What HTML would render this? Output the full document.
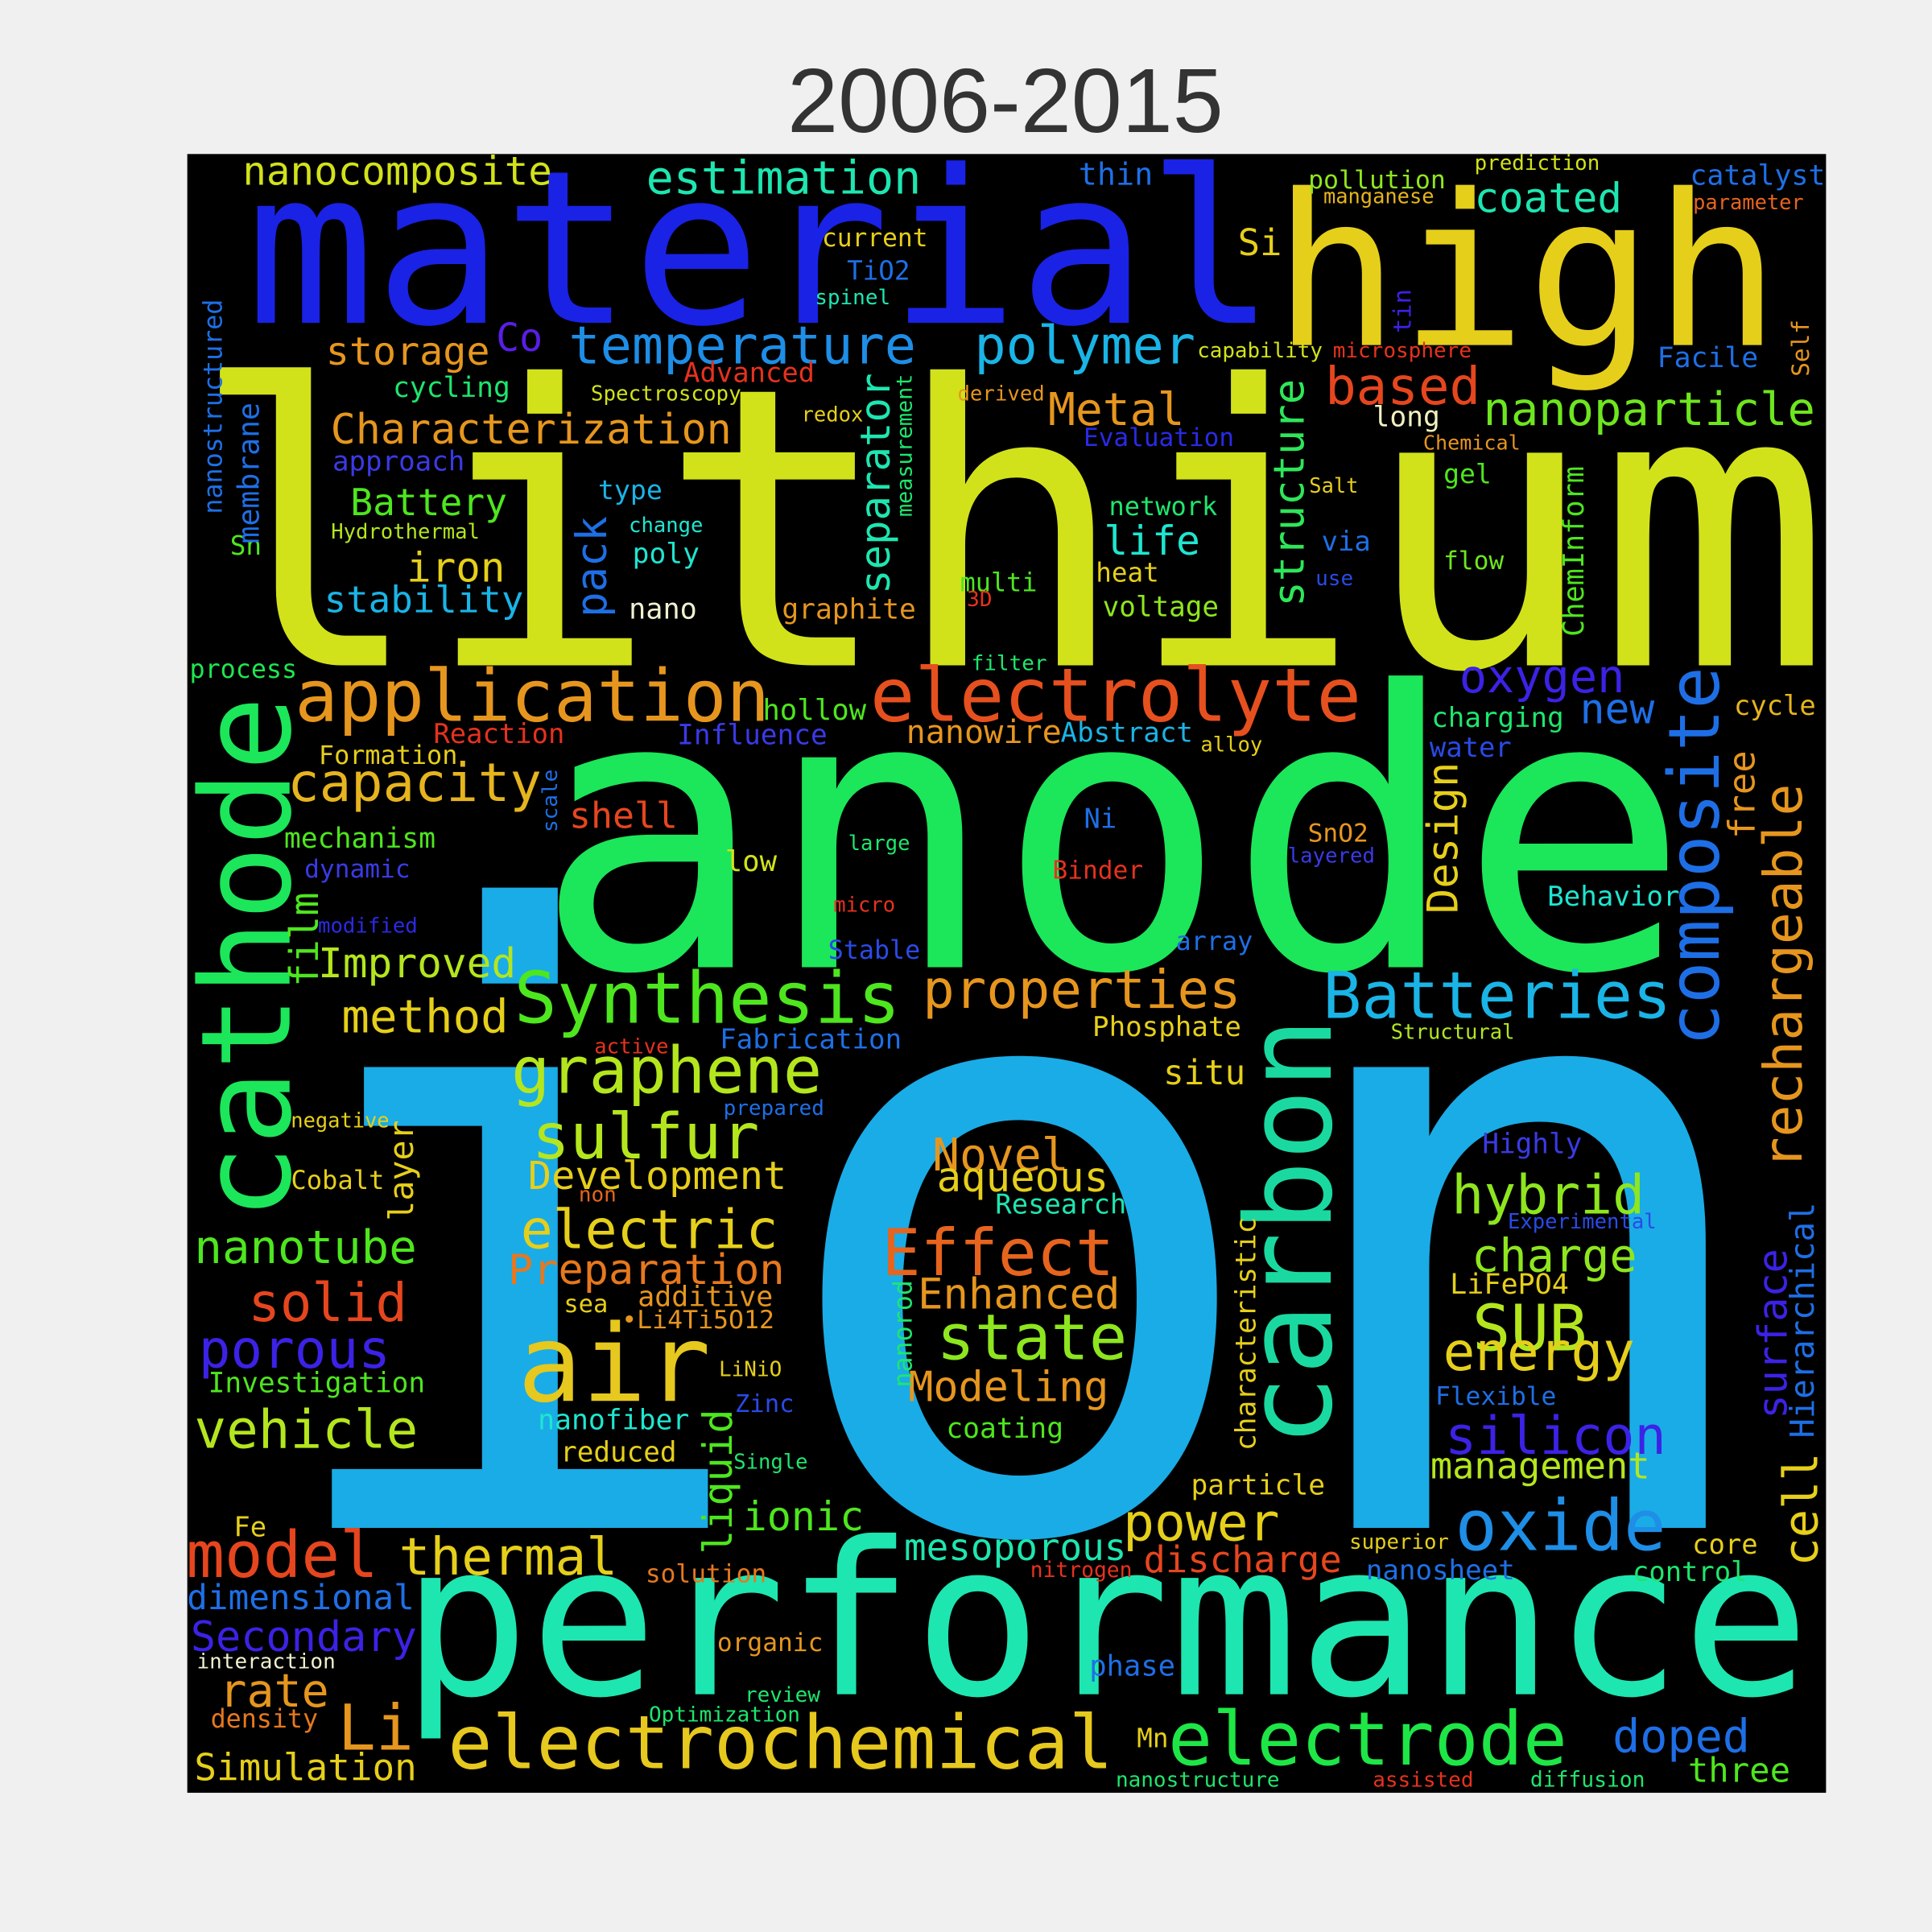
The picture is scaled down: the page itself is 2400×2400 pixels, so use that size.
<!DOCTYPE html>
<html><head><meta charset="utf-8">
<style>
html,body{margin:0;padding:0;background:#f0f0f0;}
svg{display:block;}
text{font-family:"DejaVu Sans Mono","Liberation Mono",monospace;}
</style></head>
<body>
<svg id="cloud" width="2400" height="2400" viewBox="0 0 1568 1568" xmlns="http://www.w3.org/2000/svg">
<rect x="0" y="0" width="1568" height="1568" fill="#f0f0f0"/>
<text x="816" y="107" text-anchor="middle" font-size="74" fill="#333333" style="font-family:'Liberation Sans',sans-serif">2006-2015</text>
<rect x="152" y="125" width="1330" height="1330" fill="#000000"/>
<g id="words"></g>
</svg>
<script>
// Horizontal words: text, inkLeft, inkRight, baseline, colour
const hWords = [
["lithium",170,1470,540,"#d2e21a"],
["anode",445,1360,785,"#1ce65a"],
["ion",225,1430,1240,"#1aace6"],
["performance",340,1455,1375,"#1ee6b0"],
["material",210,1025,262,"#1a22e6"],
["high",1038,1440,280,"#e6cf1a"],
["nanocomposite",200,445,150,"#d2e21a"],
["estimation",527,745,157,"#1ee6b0"],
["thin",876,935,150,"#1e6fe6"],
["pollution",1063,1172,153,"#8ee61e"],
["manganese",1075,1163,165,"#e6b41e"],
["prediction",1198,1297,138,"#d2e21a"],
["coated",1198,1315,172,"#1ee6b0"],
["catalyst",1373,1480,150,"#1e6fe6"],
["parameter",1375,1463,170,"#e6641e"],
["current",668,752,200,"#e6cf1a"],
["TiO2",688,738,227,"#1e6fe6"],
["spinel",662,722,247,"#1ee6b0"],
["Si",1005,1040,207,"#e6cf1a"],
["storage",266,396,296,"#e6961e"],
["Co",403,440,285,"#5a1ee6"],
["temperature",465,740,295,"#1e8ee6"],
["polymer",793,968,295,"#1ab4e6"],
["capability",973,1072,290,"#d2e21a"],
["microsphere",1083,1193,290,"#e6321e"],
["Facile",1346,1426,298,"#1e6fe6"],
["cycling",320,413,322,"#1ee66e"],
["Advanced",556,660,310,"#e6321e"],
["Spectroscopy",481,600,325,"#d2e21a"],
["derived",778,847,325,"#e6961e"],
["Metal",852,960,345,"#e6961e"],
["based",1077,1200,328,"#e6461e"],
["nanoparticle",1207,1470,345,"#6ee61e"],
["Characterization",272,590,360,"#e6961e"],
["redox",651,700,342,"#e6cf1a"],
["long",1115,1168,346,"#f0f0c0"],
["Evaluation",881,1000,362,"#2a2ae6"],
["Chemical",1156,1233,365,"#e6961e"],
["approach",271,376,382,"#3a3ae6"],
["type",486,537,405,"#1ab4e6"],
["Battery",286,410,418,"#4ee61e"],
["Salt",1063,1102,400,"#e6cf1a"],
["gel",1172,1210,392,"#4ee61e"],
["network",901,987,418,"#1ee66e"],
["Hydrothermal",270,388,437,"#b4e61e"],
["change",511,570,432,"#1ee6d0"],
["life",897,973,450,"#1ee6d0"],
["via",1073,1112,447,"#1e6fe6"],
["poly",514,567,457,"#1ee6d0"],
["Sn",187,212,450,"#4ee61e"],
["iron",331,409,472,"#e6cf1a"],
["heat",890,940,472,"#e6cf1a"],
["flow",1172,1220,462,"#6ee61e"],
["use",1068,1098,475,"#2a4ae6"],
["multi",780,841,480,"#4ee61e"],
["stability",265,423,497,"#1ab4e6"],
["nano",511,565,502,"#f0f0d0"],
["graphite",636,742,502,"#e6961e"],
["3D",785,805,492,"#e6321e"],
["voltage",896,988,500,"#8ee61e"],
["filter",789,849,544,"#1ee66e"],
["process",155,240,550,"#1ee650"],
["application",244,620,585,"#e6961e"],
["electrolyte",711,1100,585,"#e6501e"],
["oxygen",1186,1317,562,"#3c22e6"],
["cycle",1408,1473,580,"#e6b41e"],
["hollow",620,702,584,"#4ee61e"],
["charging",1163,1268,590,"#1ee66e"],
["new",1283,1342,587,"#1e6fe6"],
["Reaction",353,457,603,"#e6321e"],
["Influence",551,670,604,"#3a3ae6"],
["nanowire",737,860,603,"#e6961e"],
["Abstract",862,967,602,"#1ab4e6"],
["alloy",975,1024,610,"#e6cf1a"],
["water",1161,1226,614,"#2a4ae6"],
["Formation",260,370,620,"#e6cf1a"],
["capacity",236,437,650,"#e6b41e"],
["shell",463,549,672,"#e6461e"],
["Ni",880,906,672,"#1e6fe6"],
["SnO2",1062,1110,683,"#e6961e"],
["large",689,738,690,"#1ee66e"],
["mechanism",232,352,688,"#4ee61e"],
["layered",1046,1115,700,"#3a3ae6"],
["low",589,630,707,"#d2e21a"],
["dynamic",248,332,712,"#3a3ae6"],
["Binder",855,927,713,"#e6321e"],
["Behavior",1257,1362,735,"#1ee6d0"],
["micro",677,726,740,"#e6321e"],
["modified",259,338,757,"#2a2ae6"],
["Stable",673,746,778,"#2a4ae6"],
["array",955,1016,771,"#1e6fe6"],
["Improved",260,417,793,"#b4e61e"],
["properties",752,1004,818,"#e6961e"],
["Batteries",1077,1353,826,"#1ab4e6"],
["Synthesis",421,727,830,"#4ee61e"],
["method",279,411,838,"#e6cf1a"],
["Phosphate",888,1006,841,"#e6cf1a"],
["Structural",1130,1228,843,"#b4e61e"],
["Fabrication",586,730,851,"#1e6fe6"],
["active",483,542,855,"#e6321e"],
["graphene",418,664,887,"#b4e61e"],
["situ",945,1010,880,"#e6cf1a"],
["prepared",588,668,905,"#1e6fe6"],
["negative",237,315,915,"#e6cf1a"],
["sulfur",434,614,940,"#b4e61e"],
["Highly",1204,1283,936,"#3a3ae6"],
["Novel",758,866,950,"#e6961e"],
["Development",431,636,965,"#e6cf1a"],
["aqueous",762,898,967,"#e6cf1a"],
["Cobalt",237,311,965,"#e6cf1a"],
["non",470,500,975,"#e6641e"],
["Research",809,913,985,"#1ee6b0"],
["hybrid",1180,1333,985,"#8ee61e"],
["Experimental",1225,1343,997,"#2a4ae6"],
["electric",425,629,1013,"#e6cf1a"],
["nanotube",160,336,1025,"#4ee61e"],
["Effect",718,902,1035,"#e6641e"],
["charge",1196,1327,1032,"#8ee61e"],
["Preparation",415,634,1042,"#e6781e"],
["LiFePO4",1178,1272,1050,"#e6cf1a"],
["solid",203,329,1072,"#e6461e"],
["Enhanced",747,907,1062,"#e6961e"],
["additive",519,626,1060,"#e6961e"],
["sea",458,493,1065,"#e6cf1a"],
["•Li4Ti5O12",506,627,1078,"#e6961e"],
["SUB",1196,1287,1096,"#b4e61e"],
["state",762,913,1103,"#8ee61e"],
["porous",163,315,1110,"#3c22e6"],
["air",422,575,1137,"#e6c81e"],
["LiNiO",584,634,1117,"#e6cf1a"],
["energy",1173,1325,1112,"#e6cf1a"],
["Investigation",171,343,1130,"#4ee61e"],
["Modeling",739,898,1137,"#e6961e"],
["Zinc",597,644,1146,"#2a4ae6"],
["Flexible",1166,1262,1140,"#1e6fe6"],
["nanofiber",438,558,1160,"#1ee6d0"],
["vehicle",160,337,1175,"#b4e61e"],
["coating",769,862,1167,"#4ee61e"],
["silicon",1175,1350,1180,"#3c22e6"],
["reduced",456,548,1186,"#e6cf1a"],
["Single",596,655,1192,"#1ee66e"],
["management",1163,1337,1200,"#b4e61e"],
["particle",968,1074,1213,"#e6cf1a"],
["ionic",604,700,1242,"#4ee61e"],
["Fe",190,216,1247,"#e6cf1a"],
["power",913,1037,1250,"#e6cf1a"],
["superior",1096,1175,1257,"#e6cf1a"],
["oxide",1183,1350,1258,"#1e8ee6"],
["core",1374,1426,1261,"#e6cf1a"],
["mesoporous",736,912,1266,"#1ee6b0"],
["model",153,305,1280,"#e6461e"],
["thermal",326,499,1278,"#e6cf1a"],
["nitrogen",837,918,1280,"#e6321e"],
["discharge",930,1087,1276,"#e6461e"],
["solution",525,621,1284,"#e6781e"],
["nanosheet",1110,1228,1282,"#1e6fe6"],
["control",1326,1417,1283,"#1ee66e"],
["dimensional",154,334,1306,"#1e6fe6"],
["Secondary",157,336,1340,"#3c22e6"],
["organic",583,667,1340,"#e6961e"],
["interaction",161,271,1354,"#f0f0d0"],
["phase",885,953,1360,"#1e6fe6"],
["rate",179,266,1385,"#e6961e"],
["review",605,665,1381,"#1ee66e"],
["density",172,257,1402,"#e6781e"],
["Optimization",528,648,1397,"#1ee66e"],
["Li",275,335,1420,"#e6961e"],
["electrochemical",370,897,1435,"#e6c81e"],
["Mn",923,948,1418,"#e6cf1a"],
["electrode",952,1268,1432,"#1ee646"],
["doped",1310,1419,1422,"#1e6fe6"],
["Simulation",160,336,1445,"#e6cf1a"],
["nanostructure",907,1037,1450,"#1ee66e"],
["assisted",1115,1195,1450,"#e6321e"],
["diffusion",1243,1334,1450,"#1ee66e"],
["three",1371,1452,1446,"#4ee61e"]
];
// Vertical words (rotated -90): text, inkTop, inkBottom, baselineX, colour
const vWords = [
["cathode",570,985,235,"#1ce65a"],
["carbon",830,1170,1080,"#1ad9a0"],
["composite",545,845,1395,"#1e6fe6"],
["rechargeable",640,945,1462,"#e6961e"],
["structure",310,490,1058,"#2ee65a"],
["separator",305,480,722,"#1ee6b0"],
["pack",420,500,492,"#1e6fe6"],
["cell",1180,1270,1475,"#e6cf1a"],
["surface",1015,1150,1450,"#3c22e6"],
["Hierarchical",978,1165,1472,"#1e6fe6"],
["liquid",1145,1260,594,"#4ee61e"],
["characteristic",990,1175,1019,"#e6cf1a"],
["nanorod",1040,1125,740,"#1ee66e"],
["Design",620,740,1183,"#e6cf1a"],
["free",610,680,1424,"#e6961e"],
["film",725,800,258,"#4ee61e"],
["layer",910,990,335,"#e6cf1a"],
["nanostructured",245,415,180,"#1e6fe6"],
["membrane",328,440,210,"#1e6fe6"],
["tin",235,270,1145,"#3c22e6"],
["Self",260,305,1468,"#e6961e"],
["ChemInform",380,515,1285,"#4ee61e"],
["measurement",305,418,740,"#1ee66e"],
["scale",625,675,452,"#1e6fe6"]
];
const NS = "http://www.w3.org/2000/svg";
const layer = document.getElementById("words");
function sizeFor(t, w){ return w / (t.length * 0.602) * 1.025; }
hWords.forEach(function(d){
  const el = document.createElementNS(NS, "text");
  
  
  el.setAttribute("x", (d[1] + d[2]) / 2);
  el.setAttribute("y", d[3]);
  el.setAttribute("text-anchor", "middle");
  el.setAttribute("font-size", sizeFor(d[0], d[2] - d[1]).toFixed(1));
  el.setAttribute("fill", d[4]);
  el.textContent = d[0];
  layer.appendChild(el);
});
vWords.forEach(function(d){
  const el = document.createElementNS(NS, "text");
  
  
  const cy = (d[1] + d[2]) / 2;
  el.setAttribute("x", 0);
  el.setAttribute("y", 0);
  el.setAttribute("text-anchor", "middle");
  el.setAttribute("transform", "translate(" + d[3] + "," + cy + ") rotate(-90)");
  el.setAttribute("font-size", sizeFor(d[0], d[2] - d[1]).toFixed(1));
  el.setAttribute("fill", d[4]);
  el.textContent = d[0];
  layer.appendChild(el);
});
</script>
</body></html>
